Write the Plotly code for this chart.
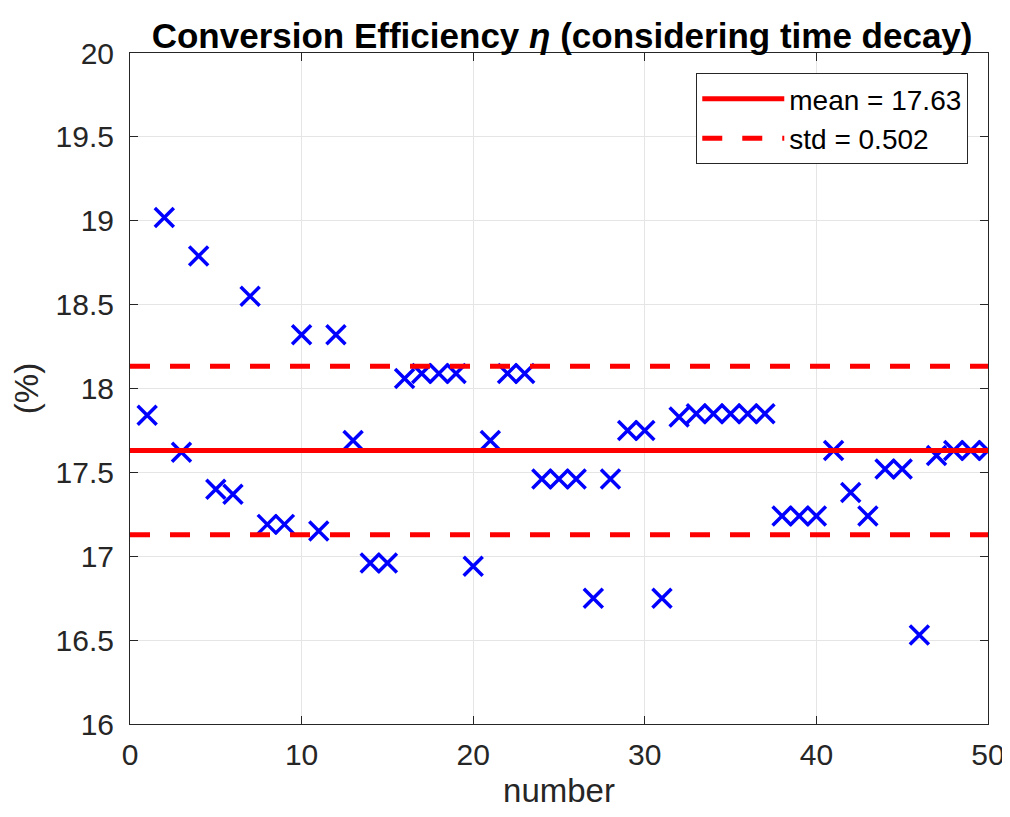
import plotly.graph_objects as go

numbers = list(range(1, 51))
efficiency = [17.84, 19.02, 17.62, 18.79, 17.40, 17.37, 18.55, 17.19, 17.19, 18.32,
              17.15, 18.32, 17.69, 16.96, 16.96, 18.06, 18.09, 18.09, 18.09, 16.94,
              17.69, 18.09, 18.09, 17.46, 17.46, 17.46, 16.75, 17.46, 17.75, 17.75,
              16.75, 17.83, 17.85, 17.85, 17.85, 17.85, 17.85, 17.24, 17.24, 17.24,
              17.63, 17.38, 17.24, 17.52, 17.52, 16.53, 17.60, 17.63, 17.63, 17.63]
mean_val = 17.63
std_val = 0.502
x_range = [0, 50]

FONT = "Liberation Sans, Arial, Helvetica, sans-serif"

fig = go.Figure()
fig.add_trace(go.Scatter(x=numbers, y=efficiency, mode="markers", showlegend=False,
                         marker=dict(symbol="x-thin", size=19, color="blue",
                                     line=dict(width=3.5, color="blue"))))
fig.add_trace(go.Scatter(x=x_range, y=[mean_val, mean_val], mode="lines",
                         name="mean = 17.63", line=dict(color="red", width=5)))
fig.add_trace(go.Scatter(x=x_range, y=[mean_val + std_val] * 2, mode="lines",
                         name="std = 0.502", legendgroup="std",
                         line=dict(color="red", width=5, dash="20px,20px")))
fig.add_trace(go.Scatter(x=x_range, y=[mean_val - std_val] * 2, mode="lines",
                         name="std = 0.502", legendgroup="std", showlegend=False,
                         line=dict(color="red", width=5, dash="20px,20px")))

axis_common = dict(showgrid=True, gridcolor="#e5e5e5", gridwidth=1, zeroline=False,
                   showline=True, linecolor="#262626", linewidth=1, mirror="ticks",
                   ticks="inside", ticklen=8, tickcolor="#262626",
                   ticklabeloverflow="allow",
                   tickfont=dict(family=FONT, size=30, color="#262626"))

fig.update_layout(
    width=1002, height=801,
    margin=dict(l=122, r=22, t=45, b=85, autoexpand=False),
    paper_bgcolor="white", plot_bgcolor="white",
    title=dict(text="<b>Conversion Efficiency <i>η</i> (considering time decay)</b>",
               x=0.553, xanchor="center", y=0.965, yanchor="middle",
               font=dict(family=FONT, size=35, color="black")),
    xaxis=dict(range=[0, 50], dtick=10, tick0=0, ticklabelstandoff=4, automargin=False,
               title=dict(text="number", standoff=15,
                          font=dict(family=FONT, size=33, color="#262626")),
               **axis_common),
    yaxis=dict(range=[16, 20], dtick=0.5, tick0=16, ticklabelstandoff=9, automargin=False,
               title=dict(text="(%)", standoff=10,
                          font=dict(family=FONT, size=33, color="#262626")),
               **axis_common),
    legend=dict(x=0.977, xanchor="right", y=0.970, yanchor="top",
                bgcolor="white", bordercolor="#262626", borderwidth=1,
                font=dict(family=FONT, size=28, color="black"),
                tracegroupgap=0, itemwidth=82),
)

fig.write_html("out.html")
